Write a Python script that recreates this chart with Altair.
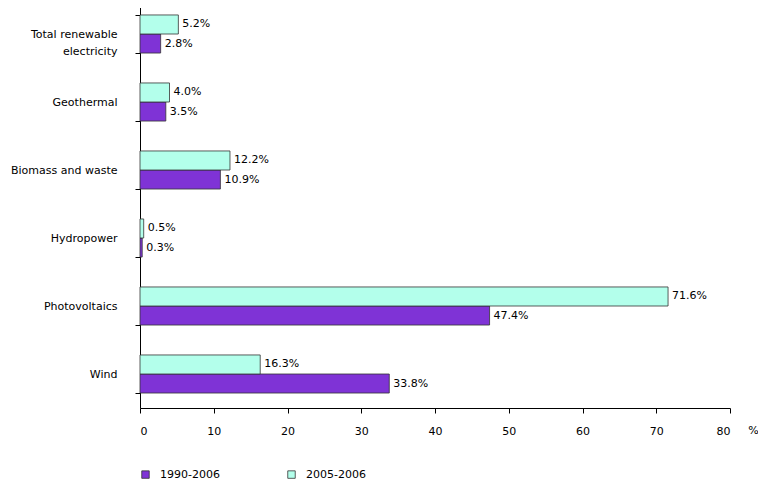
import altair as alt
import pandas as pd

categories = ["Total renewable electricity", "Geothermal", "Biomass and waste",
              "Hydropower", "Photovoltaics", "Wind"]
series = ["1990-2006", "2005-2006"]
v_1990_2006 = [2.8, 3.5, 10.9, 0.3, 47.4, 33.8]
v_2005_2006 = [5.2, 4.0, 12.2, 0.5, 71.6, 16.3]

rows = []
for c, a, b in zip(categories, v_1990_2006, v_2005_2006):
    rows.append({"cat": c, "series": series[0], "value": a})
    rows.append({"cat": c, "series": series[1], "value": b})
df = pd.DataFrame(rows)
df["label"] = df["value"].map(lambda v: f"{v:.1f}%")

FONT = "DejaVu Sans"

y_enc = alt.Y("cat:N", sort=categories,
              scale=alt.Scale(paddingInner=0.44, paddingOuter=0.22),
              axis=alt.Axis(title=None, tickBand="extent", tickSize=5,
                            labelPadding=18, labelAlign="right",
                            labelFontSize=11, labelFont=FONT, labelColor="#000",
                            domainColor="#000", tickColor="#000", labelLimit=200,
                            labelLineHeight=17,
                            labelExpr="datum.label == 'Total renewable electricity' ? ['Total renewable', 'electricity'] : datum.label"))
yoff = alt.YOffset("series:N", sort=["2005-2006", "1990-2006"],
                   scale=alt.Scale(paddingInner=0, paddingOuter=0))

x_enc = alt.X("value:Q",
              scale=alt.Scale(domain=[0, 80], nice=False),
              axis=alt.Axis(title="%", values=list(range(0, 81, 10)), grid=False,
                            tickSize=5, labelPadding=12, labelFontSize=11,
                            labelFont=FONT, labelColor="#000", domainColor="#000",
                            tickColor="#000", titleFont=FONT, titleFontSize=11,
                            titleFontWeight="normal", titleX=613, titleY=25,
                            titleAlign="center", titleBaseline="alphabetic"))

bars = alt.Chart(df).mark_bar(stroke="#333", strokeWidth=0.8).encode(
    x=x_enc, y=y_enc, yOffset=yoff,
    color=alt.Color("series:N",
                    scale=alt.Scale(domain=series, range=["#7F33D6", "#B3FFEB"]),
                    legend=alt.Legend(title=None, orient="none", direction="horizontal",
                                      legendX=0, legendY=469, symbolType="square",
                                      symbolSize=56, symbolStrokeColor="#333",
                                      symbolStrokeWidth=0.8, labelFont=FONT,
                                      labelFontSize=11, labelColor="#000",
                                      columnPadding=66, labelOffset=9)),
)

text = alt.Chart(df).mark_text(align="left", baseline="middle", dx=4,
                               font=FONT, fontSize=11, color="#000").encode(
    x="value:Q", y=alt.Y("cat:N", sort=categories), yOffset=yoff, text="label:N")

chart = alt.layer(bars, text).properties(
    width=590, height=408,
    background="white",
    autosize=alt.AutoSizeParams(type="none"),
    padding={"left": 132, "top": -8, "right": 28, "bottom": 72},
).configure_view(strokeWidth=0, stroke="transparent")

chart.save("out.html", embed_options={"renderer": "svg", "actions": False})
